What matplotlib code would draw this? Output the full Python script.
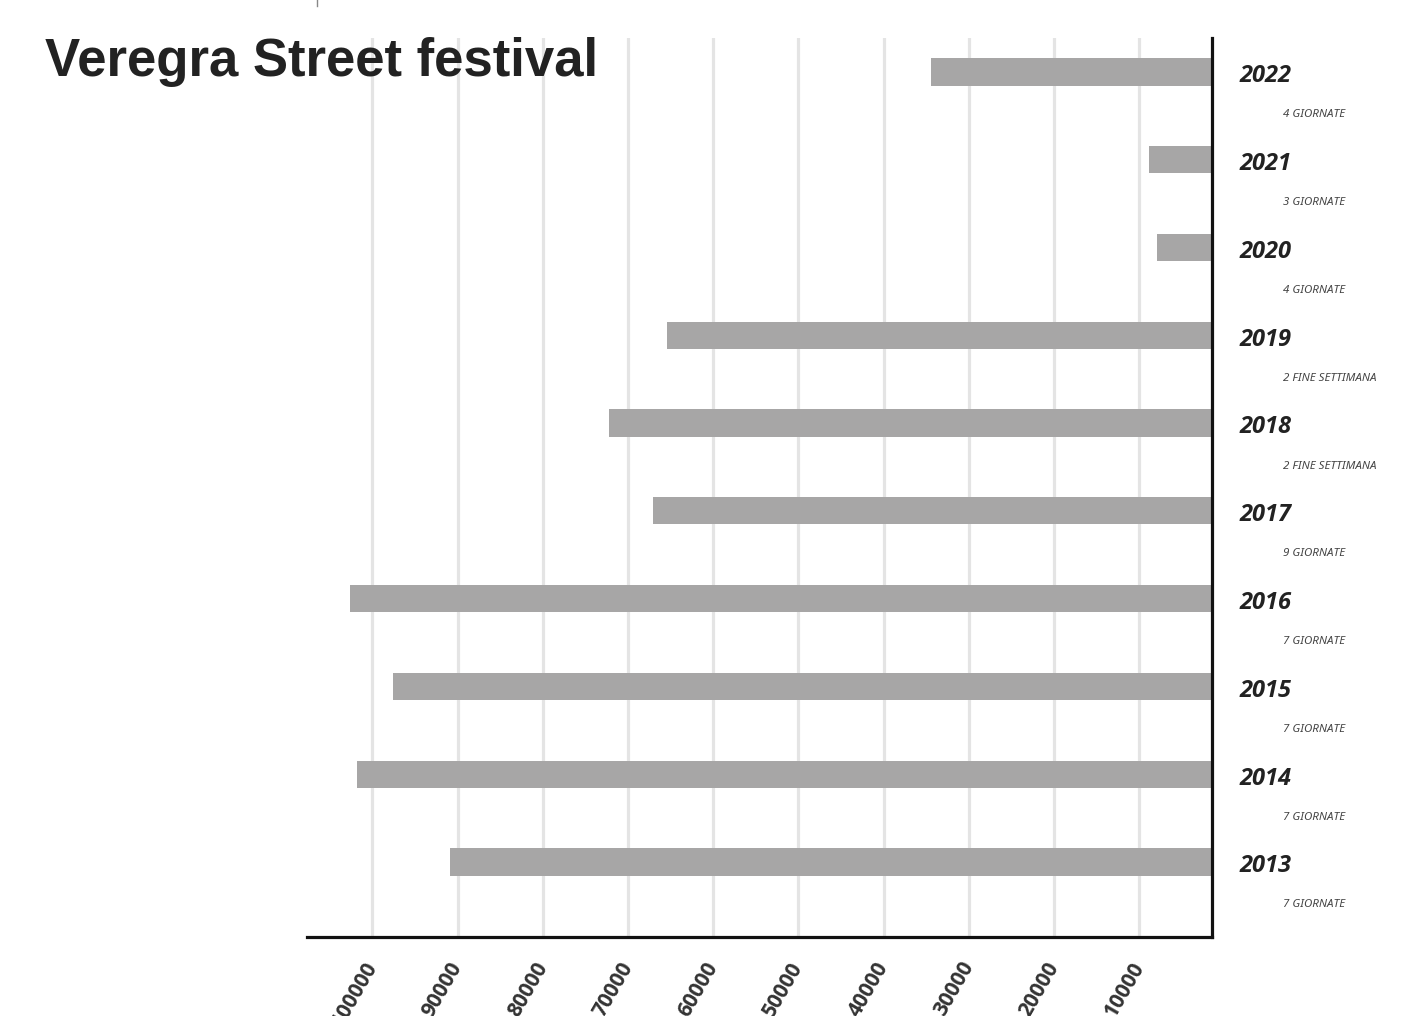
import matplotlib
matplotlib.use("Agg")
import matplotlib.pyplot as plt
from matplotlib.transforms import blended_transform_factory
from matplotlib.lines import Line2D

# ---- data ----
years = ["2013", "2014", "2015", "2016", "2017", "2018", "2019", "2020", "2021", "2022"]
visitors = [90900, 101800, 97600, 102600, 67100, 72200, 65400, 7900, 8800, 34400]
durations = ["7 GIORNATE", "7 GIORNATE", "7 GIORNATE", "7 GIORNATE", "9 GIORNATE",
             "2 FINE SETTIMANA", "2 FINE SETTIMANA", "4 GIORNATE", "3 GIORNATE", "4 GIORNATE"]
tick_values = [10000, 20000, 30000, 40000, 50000, 60000, 70000, 80000, 90000, 100000]
tick_labels = ["10000", "20000", "30000", "40000", "50000", "60000", "70000", "80000", "90000", "100000"]
title = "Veregra Street festival"

W, H = 1420, 1016
fig = plt.figure(figsize=(W / 100, H / 100), dpi=100)
fig.patch.set_facecolor("white")

left_px, right_px, top_px, bot_px = 306.7, 1212.3, 38, 937
ax = fig.add_axes([left_px / W, 1 - bot_px / H, (right_px - left_px) / W, (bot_px - top_px) / H])

ypos = list(range(len(years)))
ax.barh(ypos, visitors, height=0.31, color="#a7a6a6", zorder=2)

ax.set_xlim(107700, 1430)
ax.set_ylim(-0.855, 9.387)

for s in ["left", "top"]:
    ax.spines[s].set_visible(False)
for s in ["bottom", "right"]:
    ax.spines[s].set_color("#111111")
    ax.spines[s].set_linewidth(2.3)
    ax.spines[s].set_zorder(5)

ax.set_xticks(tick_values)
ax.set_xticklabels(tick_labels)
ax.tick_params(axis="x", length=0, pad=19)
for lab in ax.get_xticklabels():
    lab.set_rotation(60)
    lab.set_ha("right")
    lab.set_va("center")
    lab.set_rotation_mode("anchor")
    lab.set_fontsize(15)
    lab.set_fontweight("bold")
    lab.set_color("#333333")
    lab.set_family(["Open Sans", "DejaVu Sans"])
ax.set_yticks([])
ax.grid(axis="x", color="#e4e4e4", linewidth=2.3, zorder=0)
ax.set_axisbelow(True)

tr = blended_transform_factory(ax.transAxes, ax.transData)
x_year = (1239.3 - left_px) / (right_px - left_px)
x_sub = (1283.3 - left_px) / (right_px - left_px)
for i, (yr, dur) in enumerate(zip(years, durations)):
    ax.text(x_year, i - 0.05, yr, transform=tr, ha="left", va="center",
            fontsize=17, fontweight="bold", fontstyle="italic", color="#222222",
            family=["Open Sans", "DejaVu Sans"], clip_on=False)
    ax.text(x_sub, i - 0.49, dur, transform=tr, ha="left", va="center",
            fontsize=8.3, fontstyle="italic", color="#444444",
            family=["Noto Sans", "DejaVu Sans"], clip_on=False)

fig.text(45 / W, 1 - 76 / H, title, ha="left", va="baseline",
         fontsize=38, fontweight="bold", color="#222222",
         family=["Liberation Sans", "DejaVu Sans"])

fig.add_artist(Line2D([317 / W, 317 / W], [1.0, 1 - 6 / H], transform=fig.transFigure,
                      color="#888888", linewidth=1))

fig.savefig("out.png", dpi=100, facecolor="white")
